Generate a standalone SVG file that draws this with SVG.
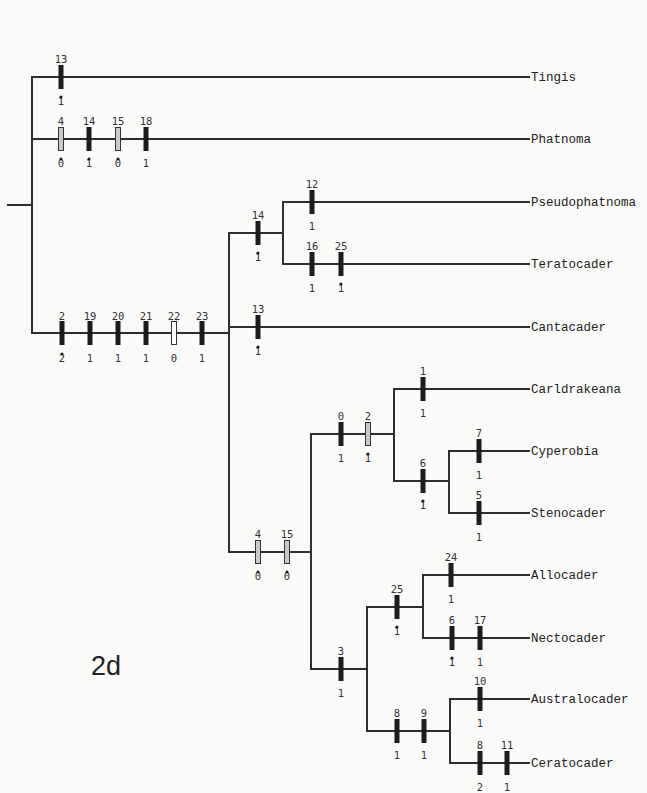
<svg xmlns="http://www.w3.org/2000/svg" width="647" height="793" viewBox="0 0 647 793">
<style>
.ln{stroke:#2e2e2e;stroke-width:2;fill:none;stroke-linecap:square}
.tx{font-family:"Liberation Mono","DejaVu Sans Mono",monospace;font-size:12.5px;fill:#222}
.cl{font-family:"DejaVu Sans Mono","Liberation Mono",monospace;font-size:10.5px;fill:#333;text-anchor:middle}
.bk{fill:#1c1c1c}
.gr{fill:#c9c9c9;stroke:#333;stroke-width:1}
.wh{fill:#fff;stroke:#333;stroke-width:1}
.dt{fill:#1c1c1c}
.big{font-family:"Liberation Sans",Arial,sans-serif;font-size:27px;fill:#222}
</style>
<defs>
<rect id="b" x="-2.5" y="-12" width="5" height="24"/>
<rect id="h" x="-2.5" y="-11.5" width="5" height="23"/>
<circle id="d" cx="0" cy="0" r="1.5"/>
</defs>
<rect width="647" height="793" fill="#fafaf8"/>
<g id="connectors">
<line class="ln" x1="8" y1="205" x2="32" y2="205"/>
<line class="ln" x1="32" y1="77" x2="32" y2="333"/>
<line class="ln" x1="32" y1="77" x2="529" y2="77"/>
<line class="ln" x1="32" y1="139" x2="529" y2="139"/>
<line class="ln" x1="32" y1="333" x2="229" y2="333"/>
<line class="ln" x1="229" y1="233" x2="229" y2="552"/>
<line class="ln" x1="229" y1="233" x2="283" y2="233"/>
<line class="ln" x1="283" y1="202" x2="283" y2="264"/>
<line class="ln" x1="283" y1="202" x2="529" y2="202"/>
<line class="ln" x1="283" y1="264" x2="529" y2="264"/>
<line class="ln" x1="229" y1="327" x2="529" y2="327"/>
<line class="ln" x1="229" y1="552" x2="311" y2="552"/>
<line class="ln" x1="311" y1="434" x2="311" y2="669"/>
<line class="ln" x1="311" y1="434" x2="394" y2="434"/>
<line class="ln" x1="394" y1="389" x2="394" y2="481"/>
<line class="ln" x1="394" y1="389" x2="529" y2="389"/>
<line class="ln" x1="394" y1="481" x2="449" y2="481"/>
<line class="ln" x1="449" y1="451" x2="449" y2="513"/>
<line class="ln" x1="449" y1="451" x2="529" y2="451"/>
<line class="ln" x1="449" y1="513" x2="529" y2="513"/>
<line class="ln" x1="311" y1="669" x2="367" y2="669"/>
<line class="ln" x1="367" y1="607" x2="367" y2="731"/>
<line class="ln" x1="367" y1="607" x2="423" y2="607"/>
<line class="ln" x1="423" y1="575" x2="423" y2="638"/>
<line class="ln" x1="423" y1="575" x2="529" y2="575"/>
<line class="ln" x1="423" y1="638" x2="529" y2="638"/>
<line class="ln" x1="367" y1="731" x2="450" y2="731"/>
<line class="ln" x1="450" y1="699" x2="450" y2="763"/>
<line class="ln" x1="450" y1="699" x2="529" y2="699"/>
<line class="ln" x1="450" y1="763" x2="529" y2="763"/>
</g>
<g id="n-tingis"><text class="tx" x="531" y="81">Tingis</text>
<use href="#b" class="bk" x="61" y="77"/><text class="cl" x="61" y="63">13</text><text class="cl" x="61" y="105">1</text><use href="#d" class="dt" x="61" y="97"/></g>
<g id="n-phatnoma"><text class="tx" x="531" y="143">Phatnoma</text>
<use href="#h" class="gr" x="61" y="139"/><text class="cl" x="61" y="125">4</text><text class="cl" x="61" y="167">0</text><use href="#d" class="dt" x="61" y="159"/>
<use href="#b" class="bk" x="89" y="139"/><text class="cl" x="89" y="125">14</text><text class="cl" x="89" y="167">1</text><use href="#d" class="dt" x="89" y="159"/>
<use href="#h" class="gr" x="118" y="139"/><text class="cl" x="118" y="125">15</text><text class="cl" x="118" y="167">0</text><use href="#d" class="dt" x="118" y="159"/>
<use href="#b" class="bk" x="146" y="139"/><text class="cl" x="146" y="125">18</text><text class="cl" x="146" y="167">1</text></g>
<g id="n-ingroup">
<use href="#b" class="bk" x="62" y="333"/><text class="cl" x="62" y="320">2</text><text class="cl" x="62" y="362">2</text><use href="#d" class="dt" x="62" y="354"/>
<use href="#b" class="bk" x="90" y="333"/><text class="cl" x="90" y="320">19</text><text class="cl" x="90" y="362">1</text>
<use href="#b" class="bk" x="118" y="333"/><text class="cl" x="118" y="320">20</text><text class="cl" x="118" y="362">1</text>
<use href="#b" class="bk" x="146" y="333"/><text class="cl" x="146" y="320">21</text><text class="cl" x="146" y="362">1</text>
<use href="#h" class="wh" x="174" y="333"/><text class="cl" x="174" y="320">22</text><text class="cl" x="174" y="362">0</text>
<use href="#b" class="bk" x="202" y="333"/><text class="cl" x="202" y="320">23</text><text class="cl" x="202" y="362">1</text></g>
<g id="n-pt"><use href="#b" class="bk" x="258" y="233"/><text class="cl" x="258" y="219">14</text><text class="cl" x="258" y="261">1</text><use href="#d" class="dt" x="258" y="253"/></g>
<g id="n-pseudophatnoma"><text class="tx" x="531" y="206">Pseudophatnoma</text>
<use href="#b" class="bk" x="312" y="202"/><text class="cl" x="312" y="188">12</text><text class="cl" x="312" y="230">1</text></g>
<g id="n-teratocader"><text class="tx" x="531" y="268">Teratocader</text>
<use href="#b" class="bk" x="312" y="264"/><text class="cl" x="312" y="250">16</text><text class="cl" x="312" y="292">1</text>
<use href="#b" class="bk" x="341" y="264"/><text class="cl" x="341" y="250">25</text><text class="cl" x="341" y="292">1</text><use href="#d" class="dt" x="341" y="284"/></g>
<g id="n-cantacader"><text class="tx" x="531" y="331">Cantacader</text>
<use href="#b" class="bk" x="258" y="327"/><text class="cl" x="258" y="313">13</text><text class="cl" x="258" y="355">1</text><use href="#d" class="dt" x="258" y="347"/></g>
<g id="n-cantacaderinae"><use href="#h" class="gr" x="258" y="552"/><text class="cl" x="258" y="538">4</text><text class="cl" x="258" y="580">0</text><use href="#d" class="dt" x="258" y="572"/>
<use href="#h" class="gr" x="287" y="552"/><text class="cl" x="287" y="538">15</text><text class="cl" x="287" y="580">0</text><use href="#d" class="dt" x="287" y="572"/></g>
<g id="n-c1"><use href="#b" class="bk" x="341" y="434"/><text class="cl" x="341" y="420">0</text><text class="cl" x="341" y="462">1</text>
<use href="#h" class="gr" x="368" y="434"/><text class="cl" x="368" y="420">2</text><text class="cl" x="368" y="462">1</text><use href="#d" class="dt" x="368" y="454"/></g>
<g id="n-carldrakeana"><text class="tx" x="531" y="393">Carldrakeana</text>
<use href="#b" class="bk" x="423" y="389"/><text class="cl" x="423" y="375">1</text><text class="cl" x="423" y="417">1</text></g>
<g id="n-c2"><use href="#b" class="bk" x="423" y="481"/><text class="cl" x="423" y="467">6</text><text class="cl" x="423" y="509">1</text><use href="#d" class="dt" x="423" y="501"/></g>
<g id="n-cyperobia"><text class="tx" x="531" y="455">Cyperobia</text>
<use href="#b" class="bk" x="479" y="451"/><text class="cl" x="479" y="437">7</text><text class="cl" x="479" y="479">1</text></g>
<g id="n-stenocader"><text class="tx" x="531" y="517">Stenocader</text>
<use href="#b" class="bk" x="479" y="513"/><text class="cl" x="479" y="499">5</text><text class="cl" x="479" y="541">1</text></g>
<g id="n-c3"><use href="#b" class="bk" x="341" y="669"/><text class="cl" x="341" y="655">3</text><text class="cl" x="341" y="697">1</text></g>
<g id="n-c4"><use href="#b" class="bk" x="397" y="607"/><text class="cl" x="397" y="593">25</text><text class="cl" x="397" y="635">1</text><use href="#d" class="dt" x="397" y="627"/></g>
<g id="n-allocader"><text class="tx" x="531" y="579">Allocader</text>
<use href="#b" class="bk" x="451" y="575"/><text class="cl" x="451" y="561">24</text><text class="cl" x="451" y="603">1</text></g>
<g id="n-nectocader"><text class="tx" x="531" y="642">Nectocader</text>
<use href="#b" class="bk" x="452" y="638"/><text class="cl" x="452" y="624">6</text><text class="cl" x="452" y="666">1</text><use href="#d" class="dt" x="452" y="658"/>
<use href="#b" class="bk" x="480" y="638"/><text class="cl" x="480" y="624">17</text><text class="cl" x="480" y="666">1</text></g>
<g id="n-c5"><use href="#b" class="bk" x="397" y="731"/><text class="cl" x="397" y="717">8</text><text class="cl" x="397" y="759">1</text>
<use href="#b" class="bk" x="424" y="731"/><text class="cl" x="424" y="717">9</text><text class="cl" x="424" y="759">1</text></g>
<g id="n-australocader"><text class="tx" x="531" y="703">Australocader</text>
<use href="#b" class="bk" x="480" y="699"/><text class="cl" x="480" y="685">10</text><text class="cl" x="480" y="727">1</text></g>
<g id="n-ceratocader"><text class="tx" x="531" y="767">Ceratocader</text>
<use href="#b" class="bk" x="480" y="763"/><text class="cl" x="480" y="749">8</text><text class="cl" x="480" y="791">2</text>
<use href="#b" class="bk" x="507" y="763"/><text class="cl" x="507" y="749">11</text><text class="cl" x="507" y="791">1</text></g>
<text class="big" x="91" y="675">2d</text>
</svg>
